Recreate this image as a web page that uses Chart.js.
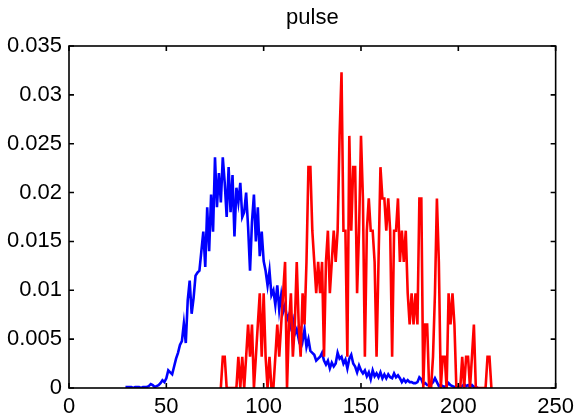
<!DOCTYPE html>
<html>
<head>
<meta charset="utf-8">
<script src="https://cdn.jsdelivr.net/npm/chart.js@4.4.1/dist/chart.umd.min.js"></script>
<style>
  html, body { margin: 0; padding: 0; background: #fff; }
  #wrap { width: 580px; height: 417px; }
</style>
</head>
<body>
<div id="wrap"><canvas id="c" width="580" height="417"></canvas></div>
<script>
const titleText = "pulse";
const xTickValues = [0, 50, 100, 150, 200, 250];
const xTickLabels = ["0", "50", "100", "150", "200", "250"];
const yTickValues = [0, 0.005, 0.01, 0.015, 0.02, 0.025, 0.03, 0.035];
const yTickLabels = ["0", "0.005", "0.01", "0.015", "0.02", "0.025", "0.03", "0.035"];

const blueX = [29,30,31,32,33,34,35,36,37,38,39,40,41,42,43,44,45,46,47,48,49,50,
  51,52,53,54,55,56,57,58,59,60,61,62,63,64,65,66,67,68,69,70,71,72,73,74,75,76,77,78,79,80,
  81,82,83,84,85,86,87,88,89,90,91,92,93,94,95,96,97,98,99,100,101,102,103,104,105,106,107,108,109,110,
  111,112,113,114,115,116,117,118,119,120,121,122,123,124,125,126,127,128,129,130,131,132,133,134,135,136,137,138,139,140,
  141,142,143,144,145,146,147,148,149,150,151,152,153,154,155,156,157,158,159,160,161,162,163,164,165,166,167,168,169,170,
  171,172,173,174,175,176,177,178,179,180,181,182,183,184,185,186,187,188,189,190,191,192,193,194,195,196,197,198,199,200,
  201,202,203,204,205,206,207,208,209,210];
const blueY = [0.0001,0.0001,0.0001,0.0001,0.0000,0.0001,0.0001,0.0001,0.0000,0.0001,0.0001,0.0001,0.0002,0.0004,0.0003,0.0001,0.0002,0.0003,0.0005,0.0008,0.0006,0.0010,
  0.0018,0.0016,0.0014,0.0022,0.0030,0.0036,0.0044,0.0048,0.0066,0.0046,0.0090,0.0110,0.0076,0.0092,0.0115,0.0118,0.0120,0.0140,0.0160,0.0124,0.0185,0.0140,0.0198,0.0160,0.0236,0.0185,0.0220,0.0190,0.0236,0.0210,
  0.0175,0.0226,0.0180,0.0218,0.0155,0.0205,0.0190,0.0210,0.0175,0.0180,0.0200,0.0165,0.0120,0.0170,0.0198,0.0150,0.0185,0.0135,0.0160,0.0130,0.0120,0.0105,0.0120,0.0095,0.0100,0.0085,0.0105,0.0080,0.0095,0.0078,
  0.0085,0.0070,0.0075,0.0063,0.0070,0.0055,0.0060,0.0050,0.0058,0.0048,0.0060,0.0042,0.0050,0.0038,0.0036,0.0034,0.0028,0.0030,0.0032,0.0036,0.0028,0.0024,0.0028,0.0020,0.0026,0.0022,0.0025,0.0036,0.0030,0.0032,
  0.0025,0.0029,0.0020,0.0030,0.0034,0.0025,0.0022,0.0016,0.0023,0.0018,0.0015,0.0018,0.0012,0.0016,0.0009,0.0018,0.0012,0.0015,0.0011,0.0016,0.0010,0.0014,0.0010,0.0014,0.0011,0.0010,0.0015,0.0011,0.0013,0.0010,
  0.0006,0.0009,0.0006,0.0008,0.0006,0.0006,0.0005,0.0005,0.0006,0.0011,0.0009,0.0004,0.0005,0.0003,0.0003,0.0004,0.0006,0.0010,0.0006,0.0002,0.0003,0.0002,0.0001,0.0002,0.0005,0.0003,0.0002,0.0001,0.0001,0.0000,
  0.0001,0.0002,0.0004,0.0002,0.0003,0.0001,0.0003,0.0001,0.0001,0.0000];

const redX = [78,79,80,81,82,83,84,85,86,87,88,89,90,91,92,93,94,95,96,97,98,99,100,
  101,102,103,104,105,106,107,108,109,110,111,112,113,114,115,116,117,118,119,120,121,122,123,124,125,126,127,128,129,130,
  131,132,133,134,135,136,137,138,139,140,141,142,143,144,145,146,147,148,149,150,151,152,153,154,155,156,157,158,159,160,
  161,162,163,164,165,166,167,168,169,170,171,172,173,174,175,176,177,178,179,180,181,182,183,184,185,186,187,188,189,190,
  191,192,193,194,195,196,197,198,199,200,201,202,203,204,205,206,207,208,209,210,211,212,213,214,215,216,217];
const redY = [0,0.0032,0.0032,0,0,0,0,0,0,0.0032,0,0.0032,0,0.0032,0.0065,0.0032,0.0065,0,0.0032,0.0065,0.0097,0.0032,0.0097,
  0.0032,0,0.0032,0,0,0.0032,0.0065,0.0032,0.0065,0.0097,0.0129,0,0.0065,0.0097,0.0032,0.0065,0.0129,0.0065,0.0032,0.0097,0.0065,0.0129,0.0226,0.0226,0.0161,0.0129,0.0097,0.0129,0.0097,0.0129,
  0.0032,0.0129,0.0161,0.0097,0.0129,0.0161,0.0129,0.0161,0.0258,0.0323,0.0161,0.0161,0.0032,0.0258,0.0161,0.0226,0.0226,0.0097,0.0161,0.0258,0.0194,0.0032,0.0161,0.0194,0.0161,0.0161,0.0129,0.0032,0.0129,0.0226,
  0.0194,0.0194,0.0161,0.0194,0.0161,0.0032,0.0161,0.0161,0.0194,0.0129,0.0161,0.0129,0.0161,0.0097,0.0065,0.0097,0.0065,0.0097,0.0065,0.0194,0.0194,0,0.0065,0.0065,0,0,0.0032,0.0097,0.0194,0.0129,
  0,0.0032,0.0032,0,0.0097,0.0065,0.0097,0.0065,0,0,0,0.0032,0,0.0032,0.0032,0,0.0032,0.0065,0,0,0,0,0,0,0.0032,0.0032,0];

const blueData = blueX.map((x, i) => ({ x: x, y: blueY[i] }));
const redData = redX.map((x, i) => ({ x: x, y: redY[i] }));

const FONT = { family: "'Liberation Sans', Arial, Helvetica, sans-serif", size: 22, weight: 'normal' };

const matlabAxes = {
  id: 'matlabAxes',
  afterDraw(chart) {
    const { ctx, chartArea: a, scales } = chart;
    const xs = scales.x, ys = scales.y;
    ctx.save();
    ctx.strokeStyle = '#000';
    ctx.lineWidth = 1.6;
    ctx.strokeRect(a.left, a.top, a.right - a.left, a.bottom - a.top);
    const L = 5;
    ctx.beginPath();
    xTickValues.forEach(v => {
      const px = xs.getPixelForValue(v);
      ctx.moveTo(px, a.bottom); ctx.lineTo(px, a.bottom - L);
      ctx.moveTo(px, a.top); ctx.lineTo(px, a.top + L);
    });
    yTickValues.forEach(v => {
      const py = ys.getPixelForValue(v);
      ctx.moveTo(a.left, py); ctx.lineTo(a.left + L, py);
      ctx.moveTo(a.right, py); ctx.lineTo(a.right - L, py);
    });
    ctx.stroke();
    ctx.restore();
  }
};

new Chart(document.getElementById('c'), {
  type: 'line',
  data: {
    datasets: [
      { label: 'red', data: redData, borderColor: '#ff0000', borderWidth: 2.6, pointRadius: 0, fill: false, tension: 0, order: 0 },
      { label: 'blue', data: blueData, borderColor: '#0000ff', borderWidth: 2.6, pointRadius: 0, fill: false, tension: 0, order: 1 }
    ]
  },
  options: {
    responsive: false,
    animation: false,
    events: [],
    layout: { padding: { left: 0, right: 24, top: 0, bottom: 0 } },
    plugins: {
      legend: { display: false },
      tooltip: { enabled: false },
      title: {
        display: true, text: titleText, color: '#000', fullSize: false,
        font: FONT, padding: { top: 5, bottom: 14.6 }
      }
    },
    scales: {
      x: {
        type: 'linear', min: 0, max: 250,
        afterBuildTicks: s => { s.ticks = xTickValues.map(v => ({ value: v })); },
        afterFit: s => { s.height = 29; },
        ticks: { color: '#000', font: FONT, padding: 6, maxRotation: 0, autoSkip: false,
          callback: (v) => xTickLabels[xTickValues.indexOf(v)] },
        grid: { display: false, drawTicks: false },
        border: { display: false }
      },
      y: {
        type: 'linear', min: 0, max: 0.035,
        afterBuildTicks: s => { s.ticks = yTickValues.map(v => ({ value: v })); },
        afterFit: s => { s.width = 69; },
        ticks: { color: '#000', font: FONT, padding: 7, autoSkip: false,
          callback: (v) => { const i = yTickValues.findIndex(t => Math.abs(t - v) < 1e-9); return yTickLabels[i]; } },
        grid: { display: false, drawTicks: false },
        border: { display: false }
      }
    }
  },
  plugins: [matlabAxes]
});
</script>
</body>
</html>
